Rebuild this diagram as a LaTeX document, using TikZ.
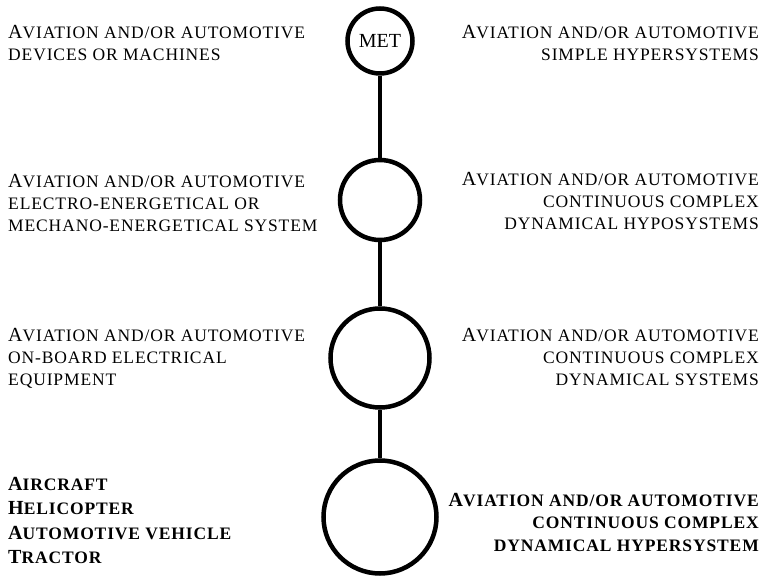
\documentclass[tikz,border=0pt]{standalone}
\usepackage{fontspec}
\setmainfont{Liberation Serif}
\newfontfamily\capsfont[LetterSpace=5]{Liberation Serif}
\usetikzlibrary{positioning}

% hand-made small caps: full-size initial, smaller capitals after it
\newcommand{\ini}[1]{{\capsfont #1}}
\newcommand{\smc}[1]{{\fontsize{17.5}{\the\baselineskip}\capsfont #1}}
\newcommand{\aviation}{\ini{A}\smc{VIATION AND/OR AUTOMOTIVE}}

\tikzset{
	level/.style={circle, draw, line width=4.5pt, inner sep=0pt, font=\fontsize{20}{22}\selectfont},
	link/.style={line width=4.5pt},
	leftnote/.style={anchor=north west, align=left, inner sep=0pt, font=\fontsize{20}{22}\selectfont},
	rightnote/.style={anchor=north east, align=right, inner sep=0pt, font=\fontsize{20}{22}\selectfont},
}

\begin{document}
\begin{tikzpicture}[x=1pt, y=-1pt]
		\useasboundingbox (0,0) rectangle (764,577);

		\node[level, minimum size=65pt] (met) at (380,41) {MET};
		\node[level, minimum size=80pt, below=82pt of met] (lvl2) {};
		\node[level, minimum size=99pt, below=64pt of lvl2] (lvl3) {};
		\node[level, minimum size=113pt, below=48.5pt of lvl3] (lvl4) {};

		\draw[link] (met) -- (lvl2);
		\draw[link] (lvl2) -- (lvl3);
		\draw[link] (lvl3) -- (lvl4);

		\node[leftnote] (devices) at (8,25) {\aviation\\ \smc{DEVICES OR MACHINES}};
		\node[leftnote] (energy) at (8,174) {\aviation\\ \smc{ELECTRO-ENERGETICAL OR}\\ \smc{MECHANO-ENERGETICAL SYSTEM}};
		\node[leftnote] (onboard) at (8,328) {\aviation\\ \smc{ON-BOARD ELECTRICAL}\\ \smc{EQUIPMENT}};
		\node[leftnote, font=\fontsize{20}{24.5}\selectfont\bfseries] (vehicles) at (8,477)
			{\ini{A}\smc{IRCRAFT}\\ \ini{H}\smc{ELICOPTER}\\ \ini{A}\smc{UTOMOTIVE VEHICLE}\\ \ini{T}\smc{RACTOR}};

		\node[rightnote] (simple) at (759,25) {\aviation\\ \smc{SIMPLE HYPERSYSTEMS}};
		\node[rightnote] (hypo) at (759,172) {\aviation\\ \smc{CONTINUOUS COMPLEX}\\ \smc{DYNAMICAL HYPOSYSTEMS}};
		\node[rightnote] (systems) at (759,328) {\aviation\\ \smc{CONTINUOUS COMPLEX}\\ \smc{DYNAMICAL SYSTEMS}};
		\node[rightnote, font=\fontsize{20}{22.5}\selectfont\bfseries] (hyper) at (759,493)
			{\aviation\\ \smc{CONTINUOUS COMPLEX}\\ \smc{DYNAMICAL HYPERSYSTEM}};
	\end{tikzpicture}
\end{document}
